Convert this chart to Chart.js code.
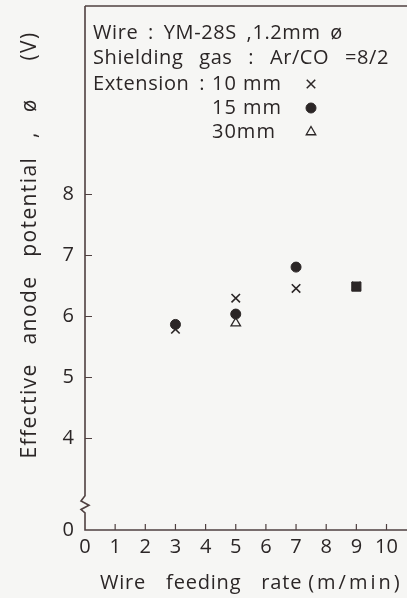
<!DOCTYPE html>
<html>
<head>
<meta charset="utf-8">
<script src="https://cdn.jsdelivr.net/npm/chart.js@4/dist/chart.umd.min.js"></script>
<style>
  html, body { margin: 0; padding: 0; background: #f6f6f4; overflow: hidden; }
  canvas { display: block; }
</style>
</head>
<body>
<canvas id="c" width="407" height="598"></canvas>
<script>
// Effective anode potential vs wire feeding rate, three wire extensions

const feedRates = [3, 5, 7, 9];
const ext10mm = [5.79, 6.30, 6.46, 6.50];
const ext15mm = [5.87, 6.04, 6.81, 6.49];
const ext30mm = [null, 5.89, null, null];

const xTicks = [0, 1, 2, 3, 4, 5, 6, 7, 8, 9, 10];
const yTicks = [4, 5, 6, 7, 8];
const yBase = 2.5;           // value where the broken axis shows "0"
const yBreak = [2.78, 3.06]; // zig-zag break on the y axis

const legendLines = ["Wire : YM-28S ,1.2mm ø", "Shielding gas : Ar/CO =8/2", "Extension :"];
const legendItems = ["10 mm", "15 mm", "30mm"];
const xTitle = ["Wire feeding rate", "(m/min)"];
const yTitle = "Effective anode potential , ø  (V)";

const INK = "#2b2626";
const AXIS = "#4f4040";
const BG = "#f6f6f4";
const FONT = "'Open Sans', 'DejaVu Sans', sans-serif";

const pts = (ys) => feedRates.map((x, i) => ({ x, y: ys[i] }));
const spacing = (ctx, letter, word) => {
  if ("letterSpacing" in ctx) ctx.letterSpacing = letter + "px";
  if ("wordSpacing" in ctx) ctx.wordSpacing = word + "px";
};

// ─────────────── axes, ticks, break, legend, titles ───────────────
const frame = {
  id: "frame",
  afterDraw(chart) {
    const { ctx, chartArea: a, scales: { x, y } } = chart;
    ctx.save();
    ctx.strokeStyle = AXIS;
    ctx.lineWidth = 1.6;

    // top border of the frame
    ctx.beginPath();
    ctx.moveTo(a.left, a.top);
    ctx.lineTo(chart.width, a.top);
    ctx.stroke();

    const bTop = y.getPixelForValue(yBreak[1]);
    const bBot = y.getPixelForValue(yBreak[0]);
    const h = bBot - bTop;
    ctx.beginPath();
    ctx.moveTo(a.left, a.top);
    ctx.lineTo(a.left, bTop);
    ctx.lineTo(a.left - 4, bTop + h * 0.3);
    ctx.lineTo(a.left + 4, bTop + h * 0.55);
    ctx.lineTo(a.left - 4, bTop + h * 0.8);
    ctx.lineTo(a.left, bBot);
    ctx.lineTo(a.left, a.bottom);
    ctx.lineTo(a.right, a.bottom);
    ctx.stroke();

    ctx.lineWidth = 1.2;
    ctx.beginPath();
    xTicks.slice(1).forEach(v => {
      const px = x.getPixelForValue(v);
      ctx.moveTo(px, a.bottom); ctx.lineTo(px, a.bottom - 6);
    });
    yTicks.forEach(v => {
      const py = y.getPixelForValue(v);
      ctx.moveTo(a.left, py); ctx.lineTo(a.left + 7, py);
    });
    ctx.stroke();

    // legend block
    ctx.fillStyle = INK;
    ctx.font = "20px " + FONT;
    ctx.textBaseline = "middle";
    ctx.textAlign = "left";
    const lx = a.left + 8;
    spacing(ctx, 0.6, 4);
    ctx.fillText(legendLines[0], lx, 33);
    spacing(ctx, 0.6, 10);
    ctx.fillText(legendLines[1], lx, 58);
    spacing(ctx, 0.6, 4);
    ctx.fillText(legendLines[2], lx, 84);
    const rowY = [84, 108, 132];
    const styles = [
      { pointStyle: "crossRot", radius: 6, borderWidth: 1.5, backgroundColor: INK },
      { pointStyle: "circle", radius: 5, borderWidth: 1, backgroundColor: INK },
      { pointStyle: "triangle", radius: 5.5, borderWidth: 1.3, backgroundColor: BG },
    ];
    spacing(ctx, 1, 0);
    legendItems.forEach((t, i) => {
      ctx.fillStyle = INK;
      ctx.fillText(t, 212, rowY[i]);
      ctx.strokeStyle = INK;
      ctx.fillStyle = styles[i].backgroundColor;
      ctx.lineWidth = styles[i].borderWidth;
      Chart.helpers.drawPoint(ctx, styles[i], 311, rowY[i]);
    });

    // axis titles (wide word spacing as in the original)
    ctx.fillStyle = INK;
    ctx.font = "20px " + FONT;
    spacing(ctx, 0.8, 14);
    ctx.fillText(xTitle[0], 100, 583);
    const w0 = ctx.measureText(xTitle[0]).width;
    spacing(ctx, 3, 0);
    ctx.fillText(xTitle[1], 100 + w0 + 6, 583);

    ctx.font = "21px " + FONT;
    spacing(ctx, 1.4, 12);
    ctx.translate(30, 245);
    ctx.rotate(-Math.PI / 2);
    ctx.textAlign = "center";
    ctx.fillText(yTitle, 0, 0);
    ctx.restore();
  },
};

const zeroPad = s => { s.paddingTop = 0; s.paddingBottom = 0; s.paddingLeft = 0; s.paddingRight = 0; };

new Chart(document.getElementById("c"), {
  type: "scatter",
  data: {
    datasets: [
      {
        label: "10 mm",
        data: pts(ext10mm),
        pointStyle: "crossRot",
        pointRadius: 6,
        borderWidth: 1.6,
        borderColor: INK,
        backgroundColor: INK,
        order: 1,
      },
      {
        label: "15 mm",
        data: pts(ext15mm),
        pointStyle: ["circle", "circle", "circle", "rect"],
        pointRadius: [5, 5, 5, 6.5],
        borderWidth: 1,
        borderColor: INK,
        backgroundColor: INK,
        order: 0,
      },
      {
        label: "30mm",
        data: pts(ext30mm),
        pointStyle: "triangle",
        pointRadius: 5.5,
        borderWidth: 1.3,
        borderColor: INK,
        backgroundColor: BG,
        order: 2,
      },
    ],
  },
  options: {
    responsive: false,
    animation: false,
    layout: { autoPadding: false, padding: { top: 6, right: 0, left: 0, bottom: 0 } },
    plugins: { legend: { display: false }, tooltip: { enabled: false } },
    scales: {
      x: {
        type: "linear",
        min: 0,
        max: 10.68,
        afterBuildTicks: s => { s.ticks = xTicks.map(v => ({ value: v })); },
        afterFit: s => { s.height = 68; zeroPad(s); },
        grid: { display: false, drawTicks: false },
        border: { display: false },
        ticks: { color: INK, font: { family: FONT, size: 20 }, padding: 5, maxRotation: 0, autoSkip: false },
      },
      y: {
        type: "linear",
        min: yBase,
        max: 11.09,
        afterBuildTicks: s => { s.ticks = [yBase, ...yTicks].map(v => ({ value: v })); },
        afterFit: s => { s.width = 85; zeroPad(s); },
        grid: { display: false, drawTicks: false },
        border: { display: false },
        ticks: {
          color: INK,
          font: { family: FONT, size: 20 },
          padding: 11,
          autoSkip: false,
          callback: v => (v === yBase ? "0" : String(v)),
        },
      },
    },
  },
  plugins: [frame],
});
</script>
</body>
</html>
